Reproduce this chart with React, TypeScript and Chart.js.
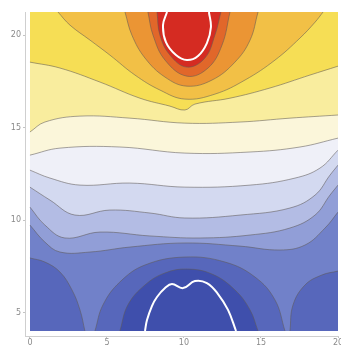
import React, { useEffect, useRef } from "react";
import { Chart, registerables } from "chart.js";

Chart.register(...registerables);

type P = [number, number];

// Axis ticks
const X_TICKS = [0, 5, 10, 15, 20];
const Y_TICKS = [5, 10, 15, 20];

// Data extent
const X_MIN = -0.32;
const X_MAX = 20;
const Y_MIN = 3.73;
const Y_MAX = 21.25;
const Y_BOTTOM = 4.0;
const Y_TOP = 21.25;

// Contour lines (x, y)
const BACKGROUND: P[] = [[0, Y_TOP], [20, Y_TOP]];

const L1: P[] = [[0, 18.54], [1.95, 18.22], [4.55, 17.46], [7.14, 16.59], [9.09, 16.16], [10.06, 15.95], [10.71, 16.27], [12.99, 16.59], [15.58, 17.14], [18.18, 17.84], [20, 18.32]];
const L2: P[] = [[0, 14.76], [0.97, 15.3], [3.25, 15.62], [6.49, 15.51], [10.06, 15.24], [13.64, 15.3], [16.88, 15.51], [20, 15.68]];
const L3: P[] = [[0, 13.51], [1.95, 13.89], [5.84, 13.95], [10.06, 13.62], [14.29, 13.68], [17.53, 13.95], [20, 14.43]];
const L4: P[] = [[0, 12.7], [1.3, 12.27], [3.25, 11.89], [6.49, 12.0], [10.06, 11.78], [14.29, 11.89], [17.21, 12.27], [18.83, 12.81], [20, 13.78]];
const L5: P[] = [[0, 11.78], [1.3, 11.08], [2.92, 10.27], [5.19, 10.54], [7.79, 10.38], [10.06, 10.11], [13.64, 10.27], [16.88, 10.65], [18.51, 11.35], [19.48, 12.43], [20, 12.97]];
const L6: P[] = [[0, 10.7], [0.97, 9.73], [2.27, 9.03], [4.55, 9.35], [7.79, 9.14], [11.04, 9.03], [14.29, 9.19], [16.88, 9.57], [18.51, 10.27], [19.48, 11.35], [20, 11.89]];
const L7: P[] = [[0, 9.73], [0.97, 8.81], [1.95, 8.27], [3.9, 8.27], [6.49, 8.54], [10.06, 8.76], [13.64, 8.59], [16.23, 8.38], [17.86, 8.65], [19.16, 9.57], [20, 10.43]];

const B1: P[] = [[0, 7.95], [0.97, 7.73], [1.95, 7.19], [2.73, 6.22], [3.25, 5.14], [3.57, 4.0]];
const B2: P[] = [[4.22, 4.0], [4.74, 5.41], [5.84, 6.65], [7.47, 7.57], [10.06, 8.0], [12.66, 7.73], [14.61, 6.92], [15.91, 5.68], [16.56, 4.0]];
const B3: P[] = [[5.84, 4.0], [6.36, 5.41], [7.47, 6.49], [8.77, 7.14], [10.19, 7.35], [11.82, 7.08], [13.31, 6.22], [14.29, 5.14], [14.81, 4.0]];
const B4_WHITE: P[] = [[7.47, 4.0], [7.6, 4.59], [7.92, 5.35], [8.25, 5.84], [8.77, 6.32], [9.22, 6.54], [9.94, 6.32], [10.71, 6.7], [11.49, 6.59], [12.21, 6.0], [12.86, 5.14], [13.38, 4.0]];
const B5: P[] = [[16.88, 4.0], [17.08, 5.41], [17.86, 6.49], [18.96, 7.03], [20, 7.24]];

const A1: P[] = [[1.82, Y_TOP], [2.6, 20.54], [3.9, 19.73], [5.19, 18.92], [6.82, 17.84], [8.44, 17.03], [10.06, 16.54], [12.01, 16.81], [13.96, 17.57], [15.91, 18.65], [17.53, 19.84], [18.51, 20.7], [19.03, Y_TOP]];
const A2: P[] = [[6.17, Y_TOP], [6.62, 20.0], [7.47, 18.76], [8.77, 17.73], [10.19, 17.24], [11.82, 17.57], [13.31, 18.54], [14.29, 19.73], [14.81, Y_TOP]];
const A3: P[] = [[7.66, Y_TOP], [7.99, 20.0], [8.77, 18.65], [10.19, 17.78], [11.56, 18.22], [12.47, 19.46], [12.99, Y_TOP]];
const A4: P[] = [[8.25, Y_TOP], [8.44, 20.0], [9.09, 18.92], [10.19, 18.27], [11.36, 18.76], [12.01, 20.0], [12.4, Y_TOP]];
const A5_WHITE: P[] = [[8.9, Y_TOP], [8.64, 20.54], [8.83, 19.62], [9.48, 18.92], [10.19, 18.65], [10.91, 18.87], [11.49, 19.57], [11.75, 20.43], [11.62, Y_TOP]];

type Layer = { pts: P[]; color: string | null; fillTo: number | null; line: string; width: number };

const GRAY = "rgba(95,90,85,0.55)";

// listed in painting order (first painted first)
const LAYERS: Layer[] = [
  { pts: BACKGROUND, color: "#f6de55", fillTo: Y_BOTTOM, line: "rgba(0,0,0,0)", width: 0 },
  { pts: L1, color: "#f9ed9e", fillTo: Y_BOTTOM, line: GRAY, width: 1 },
  { pts: L2, color: "#fbf6da", fillTo: Y_BOTTOM, line: GRAY, width: 1 },
  { pts: L3, color: "#eff0f8", fillTo: Y_BOTTOM, line: GRAY, width: 1 },
  { pts: L4, color: "#d3d9f0", fillTo: Y_BOTTOM, line: GRAY, width: 1 },
  { pts: L5, color: "#b3bce4", fillTo: Y_BOTTOM, line: GRAY, width: 1 },
  { pts: L6, color: "#919ed7", fillTo: Y_BOTTOM, line: GRAY, width: 1 },
  { pts: L7, color: "#7181c9", fillTo: Y_BOTTOM, line: GRAY, width: 1 },
  { pts: B1, color: "#5767bb", fillTo: Y_BOTTOM, line: GRAY, width: 1 },
  { pts: B2, color: "#5767bb", fillTo: Y_BOTTOM, line: GRAY, width: 1 },
  { pts: B3, color: "#3f4fac", fillTo: Y_BOTTOM, line: GRAY, width: 1 },
  { pts: B5, color: "#5767bb", fillTo: Y_BOTTOM, line: GRAY, width: 1 },
  { pts: B4_WHITE, color: null, fillTo: null, line: "#ffffff", width: 2 },
  { pts: A1, color: "#f2c046", fillTo: Y_TOP, line: GRAY, width: 1 },
  { pts: A2, color: "#eb9534", fillTo: Y_TOP, line: GRAY, width: 1 },
  { pts: A3, color: "#e1672a", fillTo: Y_TOP, line: GRAY, width: 1 },
  { pts: A4, color: "#d52b22", fillTo: Y_TOP, line: GRAY, width: 1 },
  { pts: A5_WHITE, color: null, fillTo: null, line: "#ffffff", width: 2 },
];

export default function App() {
  const ref = useRef<HTMLCanvasElement | null>(null);

  useEffect(() => {
    if (!ref.current) return;
    const n = LAYERS.length;
    const datasets = LAYERS.map((l, i) => ({
      data: l.pts.map(([x, y]) => ({ x, y })),
      borderColor: l.line,
      borderWidth: l.width,
      backgroundColor: l.color ?? "rgba(0,0,0,0)",
      fill: l.fillTo === null ? false : { value: l.fillTo },
      pointRadius: 0,
      tension: 0.4,
      order: n - i,
    }));

    const tickFont = { size: 8, family: "DejaVu Sans" };
    const chart = new Chart(ref.current, {
      type: "line",
      data: { datasets },
      options: {
        animation: false,
        responsive: false,
        events: [],
        layout: { padding: { top: 12, right: 3, left: 0, bottom: 0 } },
        plugins: { legend: { display: false }, tooltip: { enabled: false } },
        scales: {
          x: {
            type: "linear",
            min: X_MIN,
            max: X_MAX,
            afterBuildTicks: (s: any) => {
              s.ticks = X_TICKS.map((v) => ({ value: v }));
            },
            afterFit: (s: any) => {
              s.height = 10;
              s.paddingLeft = 0;
              s.paddingRight = 0;
            },
            ticks: { font: tickFont, color: "#8a8a8a", padding: 0, maxRotation: 0, autoSkip: false },
            grid: { drawOnChartArea: false, tickLength: 2, color: "#c4c4c4" },
            border: { color: "#cfcfcf" },
          },
          y: {
            type: "linear",
            min: Y_MIN,
            max: Y_MAX,
            afterBuildTicks: (s: any) => {
              s.ticks = Y_TICKS.map((v) => ({ value: v }));
            },
            afterFit: (s: any) => {
              s.width = 25;
              s.paddingTop = 0;
              s.paddingBottom = 0;
            },
            ticks: { font: tickFont, color: "#8a8a8a", padding: 2, autoSkip: false },
            grid: { drawOnChartArea: false, tickLength: 2, color: "#c4c4c4" },
            border: { color: "#cfcfcf" },
          },
        },
      } as any,
    });
    return () => chart.destroy();
  }, []);

  return (
    <div style={{ position: "fixed", left: 0, top: 0, width: 341, height: 346, background: "#fff" }}>
      <canvas ref={ref} width={341} height={346} style={{ display: "block" }} />
    </div>
  );
}
